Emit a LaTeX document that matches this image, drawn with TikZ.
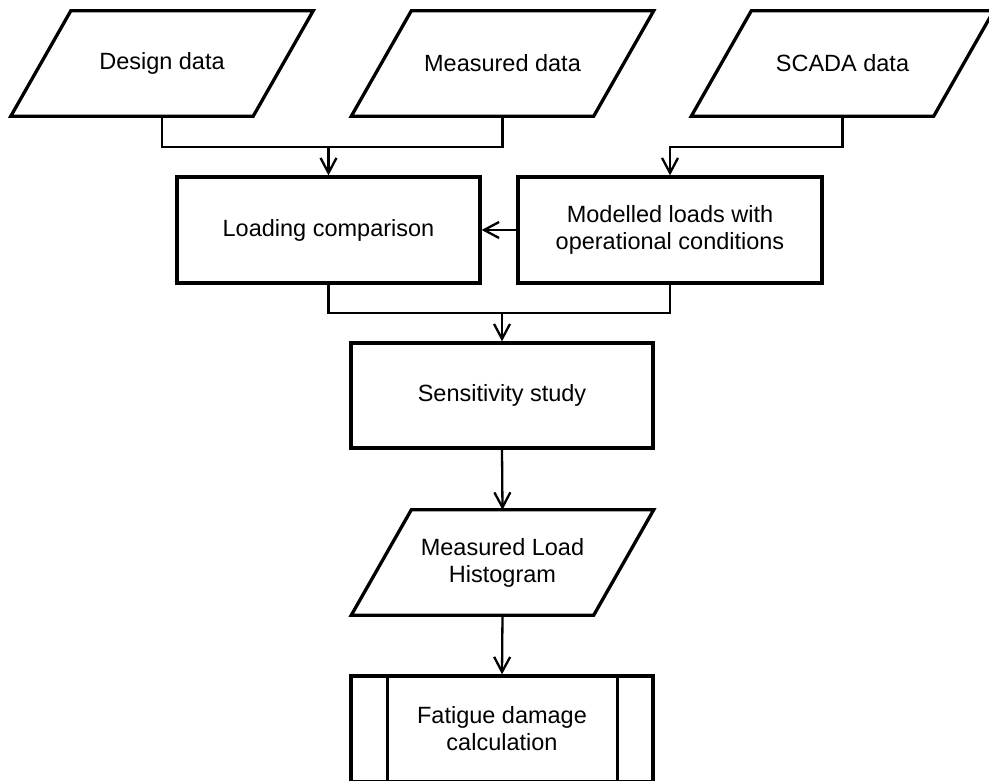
\documentclass[tikz,border=0pt]{standalone}
\usepackage{fontspec}
\setmainfont{Liberation Sans}
\usetikzlibrary{arrows.meta}
\newcommand\drawio[1]{%
  \draw[boxline] (#1.south west) -- ([xshift=60pt]#1.north west) -- (#1.north east) -- ([xshift=-60pt]#1.south east) -- cycle;}
\begin{document}
\begin{tikzpicture}[x=1pt,y=-1pt,
  boxline/.style={line width=3.3pt,line join=miter},
  iobox/.style={draw=none,inner sep=0pt,minimum width=302pt,minimum height=105pt,align=center,
     font=\fontsize{23.5pt}{27pt}\selectfont},
  procbox/.style={draw,line width=3.3pt,inner sep=0pt,align=center,
     font=\fontsize{23.5pt}{27pt}\selectfont},
  conn/.style={line width=2.3pt},
  arr/.style={line width=2.3pt,-{Straight Barb[length=15pt,width=16pt]}}]
\useasboundingbox (0,0) rectangle (989,781);

% input parallelograms
\node[iobox] (design) at (162,63.5) {Design data};
\node[iobox] (measured) at (502.5,63.5) {Measured data};
\node[iobox] (scada) at (842.5,63.5) {SCADA data};
\drawio{design}
\drawio{measured}
\drawio{scada}

% process boxes
\node[procbox,minimum width=303pt,minimum height=106pt] (loading) at (328.5,230) {Loading comparison};
\node[procbox,minimum width=304pt,minimum height=106pt] (modelled) at (670,230) {Modelled loads with\\operational conditions};
\node[procbox,minimum width=302pt,minimum height=105pt] (sens) at (502,395.5) {Sensitivity study};

% histogram
\node[iobox] (hist) at (502.5,562.5) {Measured Load\\Histogram};
\drawio{hist}

% predefined process
\node[procbox,minimum width=302pt,minimum height=106pt] (fatigue) at (502,729) {Fatigue damage\\calculation};
\draw[boxline] ([xshift=38pt]fatigue.north west) -- ([xshift=38pt]fatigue.south west);
\draw[boxline] ([xshift=-37pt]fatigue.north east) -- ([xshift=-37pt]fatigue.south east);

% connectors
\coordinate (j1) at (loading.north |- 0,147);
\draw[conn] (design.south) |- (j1) -| (measured.south);
\draw[arr] (j1) -- (loading.north);
\draw[arr] (scada.south) |- (modelled.north |- 0,147) -- (modelled.north);
\draw[arr] (modelled.west) -- (loading.east);
\coordinate (j2) at (sens.north |- 0,313);
\draw[conn] (loading.south) |- (j2) -| (modelled.south);
\draw[arr] (j2) -- (sens.north);
\draw[arr] (sens.south) -- (hist.north);
\draw[arr] (hist.south) -- (fatigue.north);
\end{tikzpicture}
\end{document}
